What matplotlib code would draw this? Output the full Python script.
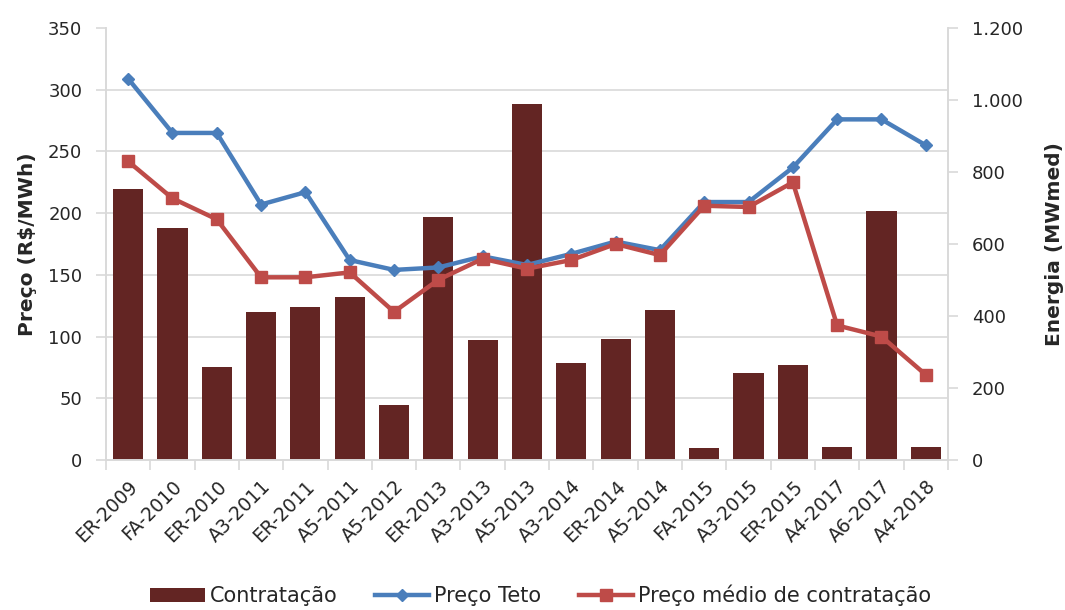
import matplotlib.pyplot as plt
import numpy as np

leiloes = ['ER-2009', 'FA-2010', 'ER-2010', 'A3-2011', 'ER-2011', 'A5-2011', 'A5-2012',
           'ER-2013', 'A3-2013', 'A5-2013', 'A3-2014', 'ER-2014', 'A5-2014', 'FA-2015',
           'A3-2015', 'ER-2015', 'A4-2017', 'A6-2017', 'A4-2018']
contratacao = [753, 644, 257, 411, 424, 453, 153, 675, 333, 989, 269, 336, 417, 33,
               242, 264, 37, 692, 36]
preco_teto = [309, 265, 265, 207, 217, 162, 154, 156, 165, 158, 167, 177, 170, 209,
              209, 237, 276, 276, 255]
preco_medio = [242, 212, 195, 148, 148, 152, 120, 146, 163, 155, 162, 175, 166, 206,
               205, 225, 109, 100, 69]

left_ticks = [0, 50, 100, 150, 200, 250, 300, 350]
right_ticks = [0, 200, 400, 600, 800, 1000, 1200]

plt.rcParams['font.family'] = 'DejaVu Sans'
txt = '#262626'
grid_c = '#d9d9d9'

fig = plt.figure(figsize=(10.65, 6.10), dpi=100)
ax = fig.add_axes([0.0995, 0.246, 0.7906, 0.708])
ax2 = ax.twinx()
ax.set_zorder(ax2.get_zorder() + 1)
ax.patch.set_visible(False)
ax2.set_axisbelow(True)

x = np.arange(len(leiloes))
bars = ax2.bar(x, contratacao, width=0.68, color='#632523', label='Contratação')
l1, = ax.plot(x, preco_teto, color='#4a7ebb', lw=3.2, marker='D', ms=6.5,
              label='Preço Teto')
l2, = ax.plot(x, preco_medio, color='#be4b48', lw=3.2, marker='s', ms=9,
              label='Preço médio de contratação')

ax.set_ylim(0, 350)
ax2.set_ylim(0, 1200)
ax.set_xlim(-0.5, len(leiloes) - 0.5)
ax.set_yticks(left_ticks)
ax2.set_yticks(right_ticks)
ax2.set_yticklabels([f'{v:,}'.replace(',', '.') for v in right_ticks])

# gridlines at left-axis ticks, drawn behind the bars
scale = 1200 / 350
ax2.set_yticks(np.array(left_ticks) * scale, minor=True)
ax2.yaxis.grid(True, which='minor', color=grid_c, lw=1.2)
ax2.tick_params(axis='y', which='minor', length=0)

ax.set_xticks(x)
ax.set_xticklabels(leiloes, rotation=45, ha='right', rotation_mode='anchor')
ax.set_xticks(np.arange(len(leiloes) + 1) - 0.5, minor=True)
ax.tick_params(axis='x', which='major', length=0, labelsize=13.5, colors=txt, pad=12)
ax.tick_params(axis='x', which='minor', length=7, color=grid_c, width=1.2)
ax.tick_params(axis='y', length=7, color=grid_c, width=1.2, labelsize=13, colors=txt,
               pad=10)
ax2.tick_params(axis='y', which='major', length=7, color=grid_c, width=1.2,
                labelsize=13, colors=txt, pad=10)

for a in (ax, ax2):
    a.spines['top'].set_visible(False)
    for s in ('left', 'right', 'bottom'):
        a.spines[s].set_color(grid_c)
        a.spines[s].set_linewidth(1.2)

ax.set_ylabel('Preço (R$/MWh)', fontsize=14.5, fontweight='bold', color=txt, labelpad=8)
ax2.set_ylabel('Energia (MWmed)', fontsize=14.5, fontweight='bold', color=txt, labelpad=16)
ax2.yaxis.set_label_position('right')
ax2.yaxis.label.set_rotation(90)

fig.legend(handles=[bars, l1, l2], loc='center', bbox_to_anchor=(0.508, 0.024),
           ncol=3, frameon=False, fontsize=15, handlelength=2.6, columnspacing=1.8,
           handletextpad=0.25, labelcolor=txt)

fig.savefig('out.png', dpi=100)
